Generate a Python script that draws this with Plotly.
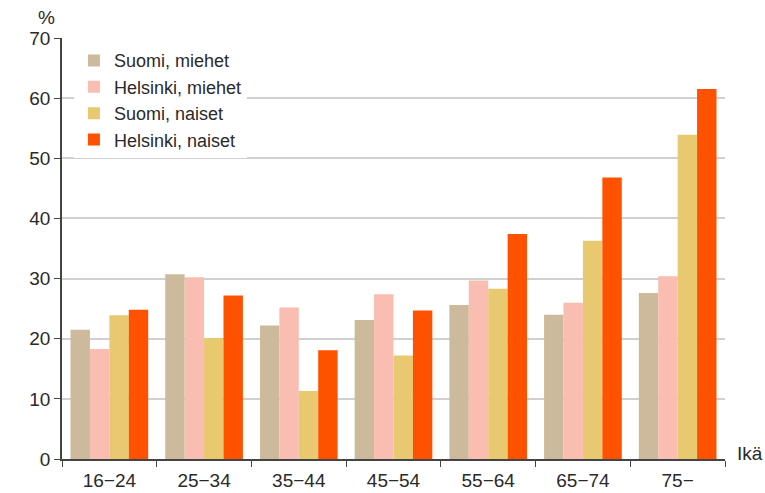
import plotly.graph_objects as go

categories = ["16\u221224", "25\u221234", "35\u221244", "45\u221254", "55\u221264", "65\u221274", "75\u2212"]
suomi_miehet = [21.5, 30.7, 22.2, 23.1, 25.6, 24.0, 27.6]
helsinki_miehet = [18.3, 30.2, 25.2, 27.4, 29.7, 26.0, 30.4]
suomi_naiset = [23.9, 20.1, 11.3, 17.2, 28.3, 36.3, 53.9]
helsinki_naiset = [24.8, 27.2, 18.1, 24.7, 37.4, 46.8, 61.5]

series = [
    ("Suomi, miehet", suomi_miehet, "#cdb99b"),
    ("Helsinki, miehet", helsinki_miehet, "#f9bdb1"),
    ("Suomi, naiset", suomi_naiset, "#e8c970"),
    ("Helsinki, naiset", helsinki_naiset, "#ff5200"),
]

fig = go.Figure()
for name, vals, col in series:
    fig.add_trace(go.Bar(x=categories, y=vals, name=name, marker_color=col, marker_line_width=0))

font = "Liberation Sans, Arial, sans-serif"
txt = "#2a2a2a"
fig.update_layout(
    width=765, height=493,
    margin=dict(l=62, r=40, t=38, b=34),
    paper_bgcolor="white", plot_bgcolor="white",
    barmode="group", bargap=0.18, bargroupgap=0,
    font=dict(family=font, size=19, color=txt),
    showlegend=True,
    legend=dict(x=0.018, y=0.99, xanchor="left", yanchor="top",
                bgcolor="white", font=dict(size=18, color=txt),
                tracegroupgap=0, itemwidth=30),
    xaxis=dict(showline=True, linecolor="#444444", linewidth=1.5,
               ticks="outside", tickson="boundaries", ticklen=6, tickcolor="#444444",
               ticklabelstandoff=3, automargin=False,
               tickfont=dict(size=19, color=txt), showgrid=False),
    yaxis=dict(range=[0, 70], dtick=10, showline=True, linecolor="#444444", linewidth=1.5,
               ticks="outside", ticklen=6, tickcolor="#444444", automargin=False,
               gridcolor="#d0d0d0", gridwidth=1.5, zeroline=False,
               tickfont=dict(size=19, color=txt)),
    annotations=[
        dict(text="%", xref="paper", yref="paper", x=-0.024, y=1.0, yshift=8,
             xanchor="center", yanchor="bottom", showarrow=False,
             font=dict(size=19, color=txt)),
        dict(text="Ikä", xref="paper", yref="paper", x=1.0, y=0, xshift=10, yshift=6,
             xanchor="left", yanchor="middle", showarrow=False,
             font=dict(size=19, color=txt)),
    ],
)

fig.write_html("out.html")
